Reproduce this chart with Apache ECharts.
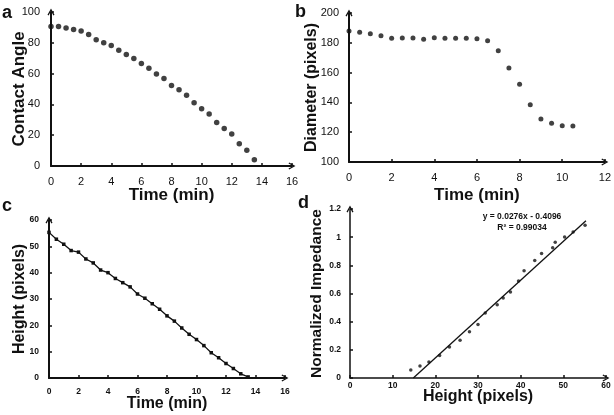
<!DOCTYPE html>
<html>
<head>
<meta charset="utf-8">
<script src="https://cdn.jsdelivr.net/npm/echarts@6/dist/echarts.min.js"></script>
<style>
html,body{margin:0;padding:0;background:#fff;}
#chart{width:614px;height:415px;}
</style>
</head>
<body>
<div id="chart"></div>
<script>
// ---- Panel a: contact angle vs time
var timeA = [0,0.5,1,1.5,2,2.5,3,3.5,4,4.5,5,5.5,6,6.5,7,7.5,8,8.5,9,9.5,10,10.5,11,11.5,12,12.5,13,13.5];
var contactAngle = [90.6,90.6,89.6,88.6,87.6,85.4,82,80,78.2,75.2,72.4,69.8,66.5,63.5,59.8,56.8,52.3,49.5,46,41,37.1,33.7,28.3,24.4,20.7,14.5,10.2,4.1];
var xTicksA = [0,2,4,6,8,10,12,14,16];
var yTicksA = [0,20,40,60,80,100];

// ---- Panel b: diameter vs time
var timeB = [0,0.5,1,1.5,2,2.5,3,3.5,4,4.5,5,5.5,6,6.5,7,7.5,8,8.5,9,9.5,10,10.5];
var diameter = [187.9,187,186.1,184.8,183,183.2,183.2,182.3,183.4,183,183,183,182.8,181.4,174.7,163.1,152.1,138.5,128.9,126,124.4,124.2];
var xTicksB = [0,2,4,6,8,10,12];
var yTicksB = [100,120,140,160,180,200];

// ---- Panel c: height vs time
var timeC = [0,0.5,1,1.5,2,2.5,3,3.5,4,4.5,5,5.5,6,6.5,7,7.5,8,8.5,9,9.5,10,10.5,11,11.5,12,12.5,13,13.5];
var heightC = [55.3,52.7,50.8,48.4,47.8,45.2,43.7,41,40,37.8,36.2,34.6,31.9,30.3,28.2,26.1,23.6,21.6,19,16.6,14.6,12.3,9.6,7.7,5.5,3.6,1.6,0.4];
var xTicksC = [0,2,4,6,8,10,12,14,16];
var yTicksC = [0,10,20,30,40,50,60];

// ---- Panel d: normalized impedance vs height
var heightD = [14.25,16.4,18.5,21.0,23.3,25.8,28.0,30.0,31.7,34.5,35.9,37.6,39.5,40.8,43.3,44.9,47.5,48.1,50.3,52.3,55.1];
var impedance = [0.057,0.085,0.114,0.159,0.221,0.268,0.328,0.38,0.461,0.52,0.568,0.61,0.689,0.762,0.834,0.884,0.924,0.964,1.002,1.036,1.085];
var trendX = [14.84,55.3];
var trendY = [0,1.117];
var xTicksD = [0,10,20,30,40,50,60];
var yTicksD = [0,0.2,0.4,0.6,0.8,1,1.2];
var trendText = ['y = 0.0276x - 0.4096', 'R\u00B2 = 0.99034'];

var panelLetters = ['a','b','c','d'];
var xNames = ['Time (min)','Time (min)','Time (min)','Height (pixels)'];
var yNames = ['Contact Angle','Diameter (pixels)','Height (pixels)','Normalized Impedance'];

function pairs(xs, ys){ return xs.map(function(x,i){ return [x, ys[i]]; }); }

var ARROW = 'path://M0,9 L5,0 L10,9 L8.4,9.9 L5,3.4 L1.6,9.9 Z';
var INK = '#111';
var TICKFONT = 'Liberation Sans';
var NAMEFONT = 'Liberation Sans';

function axisBase(ticks, opts){
  return {
    type: 'value',
    gridIndex: opts.grid,
    min: ticks[0],
    max: ticks[ticks.length-1],
    interval: ticks[1]-ticks[0],
    splitLine: {show:false},
    axisLine: {show:true, onZero:false, symbol:['none', ARROW], symbolSize:[7,8],
      lineStyle:{color:INK, width:opts.lw}},
    axisTick: {show:true, inside:true, length:3, lineStyle:{color:INK, width:1.5}},
    axisLabel: {color:INK, fontFamily:TICKFONT, fontSize:opts.fs, fontWeight:opts.fw, margin:opts.margin},
    name: opts.name,
    nameLocation: 'middle',
    nameGap: opts.gap,
    nameMoveOverlap: false,
    nameTextStyle: {color:INK, fontFamily:NAMEFONT, fontSize:opts.nfs, fontWeight:'bold', verticalAlign:'middle', align:'center'}
  };
}

var grids = [
  {left:51, top:12, width:241, height:154},
  {left:349, top:13, width:256, height:149},
  {left:49, top:220, width:236, height:158},
  {left:350, top:209, width:256, height:169}
];

var option = {
  animation: false,
  backgroundColor: '#fff',
  grid: grids,
  xAxis: [
    axisBase(xTicksA, {grid:0, lw:2, fs:11, fw:'normal', margin:10, name:xNames[0], gap:29, nfs:17}),
    axisBase(xTicksB, {grid:1, lw:2, fs:11, fw:'normal', margin:10, name:xNames[1], gap:33, nfs:17}),
    axisBase(xTicksC, {grid:2, lw:2, fs:8.5, fw:'bold', margin:9, name:xNames[2], gap:26, nfs:16}),
    axisBase(xTicksD, {grid:3, lw:1.5, fs:8.5, fw:'bold', margin:3, name:xNames[3], gap:19, nfs:16})
  ],
  yAxis: [
    axisBase(yTicksA, {grid:0, lw:2, fs:11, fw:'normal', margin:11, name:yNames[0], gap:32, nfs:17}),
    axisBase(yTicksB, {grid:1, lw:2, fs:11, fw:'normal', margin:10, name:yNames[1], gap:37, nfs:16}),
    axisBase(yTicksC, {grid:2, lw:2, fs:8.5, fw:'bold', margin:10, name:yNames[2], gap:29, nfs:16}),
    axisBase(yTicksD, {grid:3, lw:1.5, fs:8.5, fw:'bold', margin:9, name:yNames[3], gap:33, nfs:15.5})
  ],
  series: [
    {type:'scatter', xAxisIndex:0, yAxisIndex:0, data:pairs(timeA, contactAngle), symbol:'circle', symbolSize:5.5,
      itemStyle:{color:INK}},
    {type:'scatter', xAxisIndex:1, yAxisIndex:1, data:pairs(timeB, diameter), symbol:'circle', symbolSize:5,
      itemStyle:{color:INK}},
    {type:'line', xAxisIndex:2, yAxisIndex:2, data:pairs(timeC, heightC), symbol:'rect', symbolSize:3.5,
      showSymbol:true, lineStyle:{color:INK, width:1.3}, itemStyle:{color:INK}},
    {type:'scatter', xAxisIndex:3, yAxisIndex:3, data:pairs(heightD, impedance), symbol:'circle', symbolSize:3.5,
      itemStyle:{color:INK}},
    {type:'line', xAxisIndex:3, yAxisIndex:3, data:pairs(trendX, trendY), symbol:'none',
      lineStyle:{color:INK, width:1.3}}
  ],
  graphic: [
    {type:'text', left:2, top:4, style:{text:panelLetters[0], font:'bold 18px "Liberation Sans"', fill:INK}},
    {type:'text', left:295, top:3, style:{text:panelLetters[1], font:'bold 18px "Liberation Sans"', fill:INK}},
    {type:'text', left:2, top:197, style:{text:panelLetters[2], font:'bold 18px "Liberation Sans"', fill:INK}},
    {type:'text', left:298, top:194, style:{text:panelLetters[3], font:'bold 18px "Liberation Sans"', fill:INK}},
    {type:'text', x:522, y:217, style:{text:trendText[0], font:'bold 8.5px "Liberation Sans Narrow", "Liberation Sans"', fill:INK, align:'center', verticalAlign:'middle'}},
    {type:'text', x:522, y:228, style:{text:trendText[1], font:'bold 8.5px "Liberation Sans Narrow", "Liberation Sans"', fill:INK, align:'center', verticalAlign:'middle'}}
  ]
};

var chart = echarts.init(document.getElementById('chart'), null, {renderer:'canvas'});
chart.setOption(option);
</script>
</body>
</html>
